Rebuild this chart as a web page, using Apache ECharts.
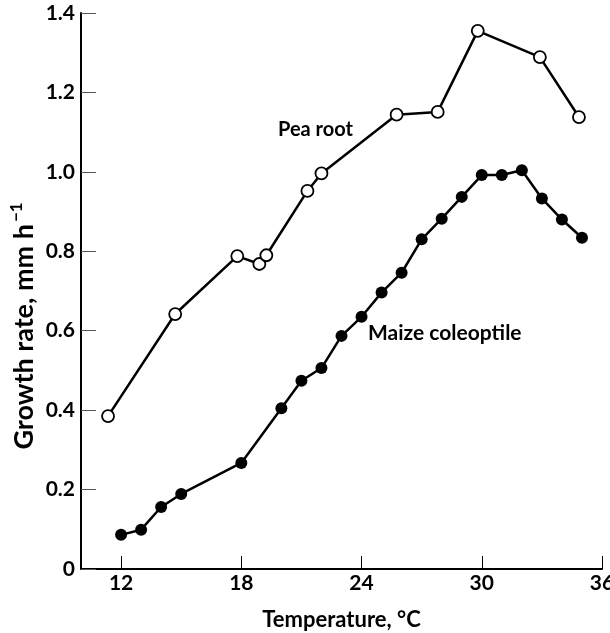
<!DOCTYPE html>
<html><head><meta charset="utf-8">
<script src="https://cdn.jsdelivr.net/npm/echarts@6/dist/echarts.min.js"></script>
<style>html,body{margin:0;padding:0;background:#fff}#c{width:610px;height:633px}</style>
</head><body><div id="c"></div>
<script>
const peaTemp = [11.35, 14.7, 17.8, 18.9, 19.25, 21.3, 22.0, 25.75, 27.8, 29.8, 32.9, 34.85];
const peaRate = [0.385, 0.642, 0.788, 0.768, 0.790, 0.952, 0.996, 1.144, 1.151, 1.355, 1.289, 1.138];
const maizeTemp = [12, 13, 14, 15, 18, 20, 21, 22, 23, 24, 25, 26, 27, 28, 29, 30, 31, 32, 33, 34, 35];
const maizeRate = [0.086, 0.099, 0.156, 0.189, 0.267, 0.405, 0.474, 0.506, 0.587, 0.635, 0.696, 0.746, 0.830, 0.882, 0.937, 0.992, 0.992, 1.004, 0.933, 0.880, 0.834];
const xTicks = [12, 18, 24, 30, 36];
const seriesNames = ['Pea root', 'Maize coleoptile'];
const xTitle = 'Temperature, °C';
const yTitle = 'Growth rate, mm h';
const yTitleSup = '−1';

const FONT = 'Lato';
const W = 'bold';
const chart = echarts.init(document.getElementById('c'));
chart.setOption({
  animation: false,
  backgroundColor: '#fff',
  grid: {left: 81, right: 8, top: 13, bottom: 64, outerBoundsMode: 'none', containLabel: false},
  xAxis: {
    type: 'value', min: 10, max: 36,
    axisLine: {show: true, onZero: false, lineStyle: {color: '#000', width: 2}},
    axisTick: {show: true, inside: true, length: 13, customValues: xTicks, lineStyle: {color: '#000', width: 1}},
    axisLabel: {customValues: xTicks, color: '#000', fontFamily: FONT, fontWeight: W, fontSize: 21, margin: 4},
    splitLine: {show: false},
    name: xTitle, nameLocation: 'middle', nameGap: 40,
    nameTextStyle: {color: '#000', fontFamily: FONT, fontWeight: W, fontSize: 22}
  },
  yAxis: {
    type: 'value', min: 0, max: 1.4, interval: 0.2,
    axisLine: {show: true, lineStyle: {color: '#000', width: 2}},
    axisTick: {show: true, inside: true, length: 15, lineStyle: {color: '#555', width: 1}},
    axisLabel: {color: '#000', fontFamily: FONT, fontWeight: W, fontSize: 21, margin: 6,
      formatter: v => v === 0 ? '0' : v.toFixed(1)},
    splitLine: {show: false}
  },
  series: [
    {
      name: seriesNames[0], type: 'line',
      data: peaTemp.map((t, i) => [t, peaRate[i]]),
      symbol: 'circle', symbolSize: 12,
      lineStyle: {color: '#000', width: 2.5},
      itemStyle: {color: '#fff', borderColor: '#000', borderWidth: 1.8},
      z: 3
    },
    {
      name: seriesNames[1], type: 'line',
      data: maizeTemp.map((t, i) => [t, maizeRate[i]]),
      symbol: 'circle', symbolSize: 12,
      lineStyle: {color: '#000', width: 2.5},
      itemStyle: {color: '#000', borderColor: '#000', borderWidth: 0},
      z: 3
    }
  ],
  graphic: [
    {type: 'text', left: 278, top: 120, style: {text: seriesNames[0], fill: '#000', font: W + ' 20px ' + FONT}},
    {type: 'text', left: 368, top: 323, style: {text: seriesNames[1], fill: '#000', font: W + ' 21px ' + FONT}},
    {type: 'text', x: 24, y: 326, rotation: Math.PI / 2,
      style: {text: yTitle + '{sup|' + yTitleSup + '}', fill: '#000', align: 'center', verticalAlign: 'middle',
        font: W + ' 27px ' + FONT,
        rich: {sup: {font: W + ' 17px ' + FONT, fill: '#000', verticalAlign: 'top', padding: [0, 0, 15, 2]}}}}
  ]
});
</script></body></html>
